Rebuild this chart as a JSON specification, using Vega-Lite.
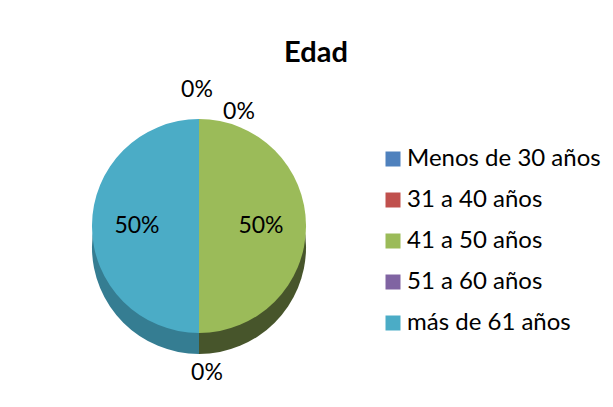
{
  "$schema": "https://vega.github.io/schema/vega-lite/v6.json",
  "width": 398,
  "height": 312,
  "autosize": {"type": "none"},
  "padding": {"left": 0, "top": 70, "right": 215, "bottom": 25},
  "background": "white",
  "config": {"view": {"stroke": null}, "font": "Lato"},
  "title": {
    "text": "Edad",
    "font": "Lato",
    "fontSize": 29,
    "fontWeight": "bold",
    "color": "black",
    "anchor": "middle",
    "frame": "group",
    "baseline": "alphabetic",
    "offset": 7,
    "dx": 117,
    "dy": 30
  },
  "data": {
    "values": [
      {"edad": "Menos de 30 años", "pct": 0, "idx": 1},
      {"edad": "31 a 40 años", "pct": 0, "idx": 2},
      {"edad": "41 a 50 años", "pct": 0.5, "idx": 3},
      {"edad": "51 a 60 años", "pct": 0, "idx": 4},
      {"edad": "más de 61 años", "pct": 0.5, "idx": 5}
    ]
  },
  "layer": [
    {
      "mark": {"type": "arc", "radius": 107, "yOffset": 21},
      "encoding": {
        "theta": {"field": "pct", "type": "quantitative", "stack": true},
        "order": {"field": "idx", "type": "quantitative"},
        "color": {
          "field": "edad",
          "type": "nominal",
          "scale": {
            "domain": ["Menos de 30 años", "31 a 40 años", "41 a 50 años", "51 a 60 años", "más de 61 años"],
            "range": ["#2f4d73", "#7a2f2d", "#47552b", "#4d3c62", "#357d92"]
          },
          "legend": null
        }
      }
    },
    {
      "mark": {"type": "arc", "radius": 107},
      "encoding": {
        "theta": {"field": "pct", "type": "quantitative", "stack": true},
        "order": {"field": "idx", "type": "quantitative"},
        "color": {
          "field": "edad",
          "type": "nominal",
          "scale": {
            "domain": ["Menos de 30 años", "31 a 40 años", "41 a 50 años", "51 a 60 años", "más de 61 años"],
            "range": ["#4F81BD", "#C0504D", "#9BBB59", "#8064A2", "#4BACC6"]
          },
          "legend": {
            "title": null,
            "orient": "none",
            "legendX": 381,
            "legendY": 77,
            "padding": 0,
            "symbolType": "square",
            "symbolSize": 225,
            "symbolStrokeWidth": 0,
            "symbolOpacity": 1,
            "labelFont": "Lato",
            "labelFontSize": 24,
            "labelColor": "black",
            "labelOffset": 2,
            "labelLimit": 300,
            "rowPadding": 17
          }
        }
      }
    },
    {
      "mark": {"type": "text", "radius": 62, "font": "Lato", "fontSize": 23, "color": "black"},
      "encoding": {
        "theta": {"field": "pct", "type": "quantitative", "stack": true},
        "order": {"field": "idx", "type": "quantitative"},
        "text": {"field": "pct", "type": "quantitative", "format": ".0%"},
        "opacity": {"condition": {"test": "datum.pct > 0", "value": 1}, "value": 0}
      }
    },
    {
      "mark": {"type": "text", "radius": 136, "dx": -2, "font": "Lato", "fontSize": 23, "color": "black"},
      "encoding": {
        "theta": {"field": "pct", "type": "quantitative", "stack": true},
        "order": {"field": "idx", "type": "quantitative"},
        "text": {"field": "pct", "type": "quantitative", "format": ".0%"},
        "opacity": {"condition": {"test": "datum.idx == 1", "value": 1}, "value": 0}
      }
    },
    {
      "mark": {"type": "text", "radius": 114, "dx": 40, "font": "Lato", "fontSize": 23, "color": "black"},
      "encoding": {
        "theta": {"field": "pct", "type": "quantitative", "stack": true},
        "order": {"field": "idx", "type": "quantitative"},
        "text": {"field": "pct", "type": "quantitative", "format": ".0%"},
        "opacity": {"condition": {"test": "datum.idx == 2", "value": 1}, "value": 0}
      }
    },
    {
      "mark": {"type": "text", "radius": 147, "dx": 8, "font": "Lato", "fontSize": 23, "color": "black"},
      "encoding": {
        "theta": {"field": "pct", "type": "quantitative", "stack": true},
        "order": {"field": "idx", "type": "quantitative"},
        "text": {"field": "pct", "type": "quantitative", "format": ".0%"},
        "opacity": {"condition": {"test": "datum.idx == 4", "value": 1}, "value": 0}
      }
    }
  ],
  "resolve": {"scale": {"color": "independent"}}
}
